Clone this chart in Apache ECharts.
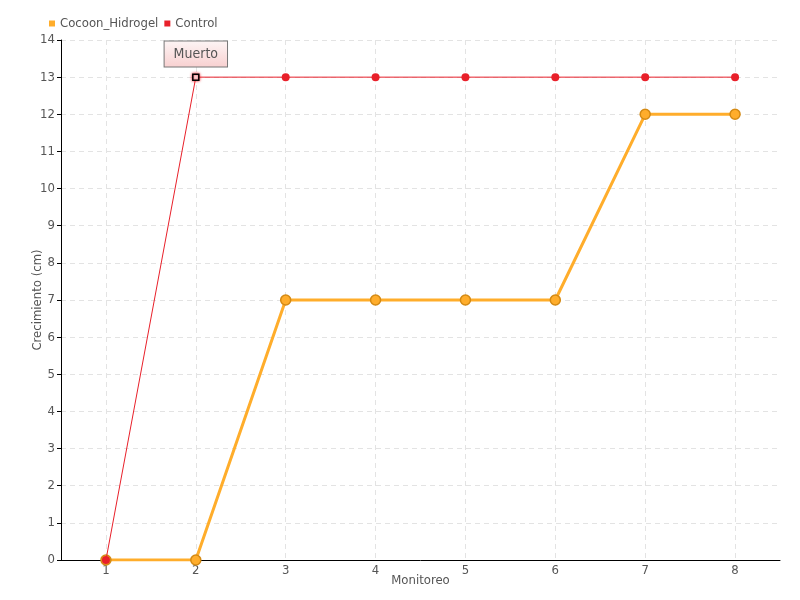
<!DOCTYPE html>
<html><head><meta charset="utf-8">
<script src="https://cdn.jsdelivr.net/npm/echarts@6/dist/echarts.min.js"></script>
<style>html,body{margin:0;padding:0;background:#fff}#c{width:800px;height:600px}</style>
</head><body><div id="c"></div>
<script>
const categories = ['1','2','3','4','5','6','7','8'];
const cocoonValues = [0,0,7,7,7,7,12,12];
const controlValues = [0,13,13,13,13,13,13,13];
const deadIndex = 1;
const deadLabel = 'Muerto';
const FONT = "'DejaVu Sans Condensed','Liberation Sans Narrow',sans-serif";

const chart = echarts.init(document.getElementById('c'));
const controlData = controlValues.map((v,i) => i === deadIndex ? {
  value: v, symbol: 'rect', symbolSize: 6,
  itemStyle: {color: '#fff', borderColor: '#000', borderWidth: 1.5, shadowColor: '#e8202a', shadowBlur: 3},
  label: {show: true, formatter: deadLabel, position: 'top', distance: 7,
    color: '#555', fontFamily: FONT, fontSize: 14,
    backgroundColor: {type:'linear',x:0,y:0,x2:0,y2:1,colorStops:[{offset:0,color:'#fdf5f5'},{offset:1,color:'#f8d0d0'}]},
    borderColor: '#777', borderWidth: 1, padding: [6,9,5,9]}
} : v);
chart.setOption({
  animation: false,
  textStyle: {fontFamily: FONT},
  legend: {left: 44, top: 12, itemWidth: 6, itemHeight: 6, itemGap: 6,
    icon: 'rect', itemStyle: {borderWidth: 0},
    textStyle: {color: '#555', fontSize: 13, fontFamily: FONT},
    data: ['Cocoon_Hidrogel','Control']},
  grid: {left: 61, right: 20, top: 40, bottom: 40, containLabel: false},
  xAxis: {type: 'category', data: categories, boundaryGap: true,
    name: 'Monitoreo', nameLocation: 'middle', nameGap: 14, nameMoveOverlap: false,
    nameTextStyle: {color: '#555', fontSize: 13, fontFamily: FONT},
    axisLine: {lineStyle: {color: '#000'}},
    axisTick: {show: false},
    axisLabel: {color: '#555', fontSize: 13, margin: 4, fontFamily: FONT},
    splitLine: {show: true, alignWithLabel: true, lineStyle: {color: '#e3e3e3', type: [5,4]}}},
  yAxis: {type: 'value', min: 0, max: 14, interval: 1,
    name: 'Crecimiento (cm)', nameLocation: 'middle', nameGap: 17, nameMoveOverlap: false,
    nameTextStyle: {color: '#555', fontSize: 13, fontFamily: FONT},
    axisLine: {show: true, lineStyle: {color: '#000'}},
    axisTick: {show: true, length: 4, lineStyle: {color: '#000'}},
    axisLabel: {color: '#555', fontSize: 13, margin: 6, fontFamily: FONT},
    splitLine: {show: true, lineStyle: {color: '#e3e3e3', type: [5,4]}}},
  series: [
    {name: 'Cocoon_Hidrogel', type: 'line', data: cocoonValues,
     symbol: 'circle', symbolSize: 10, showAllSymbol: true,
     lineStyle: {color: '#ffad2b', width: 3},
     itemStyle: {color: '#ffad2b', borderColor: '#d48a14', borderWidth: 1.5},
     z: 2},
    {name: 'Control', type: 'line', data: controlData,
     symbol: 'circle', symbolSize: 8, showAllSymbol: true,
     lineStyle: {color: '#e8202a', width: 1},
     itemStyle: {color: '#e8202a'},
     z: 3}
  ]
});
</script></body></html>
